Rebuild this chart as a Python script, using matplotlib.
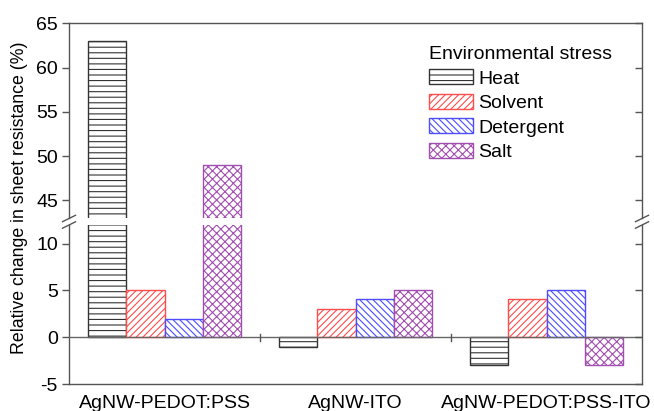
import matplotlib
matplotlib.use("Agg")
import matplotlib.pyplot as plt
import numpy as np
from matplotlib.lines import Line2D
from matplotlib.patches import Patch

plt.rcParams['font.family'] = ['Liberation Sans', 'DejaVu Sans']
plt.rcParams['hatch.linewidth'] = 0.8
plt.rcParams['axes.unicode_minus'] = False

categories = ["AgNW-PEDOT:PSS", "AgNW-ITO", "AgNW-PEDOT:PSS-ITO"]
series_names = ["Heat", "Solvent", "Detergent", "Salt"]
heat = [63, -1, -3]
solvent = [5, 3, 4.1]
detergent = [2, 4.1, 5]
salt = [49, 5, -3]
series = [heat, solvent, detergent, salt]
edge_colors = ["#333333", "#ff4d4d", "#4d4dff", "#a24db0"]
hatches = ["---", "/////", "\\\\\\\\\\", "xxxx"]
upper_ticks = [45, 50, 55, 60, 65]
lower_ticks = [-5, 0, 5, 10]

W, H = 654, 411
fig = plt.figure(figsize=(W / 100, H / 100), dpi=100)
left, right = 69 / W, 642 / W
ax_up = fig.add_axes([left, 1 - 218 / H, right - left, (218 - 23.3) / H])
ax_lo = fig.add_axes([left, 1 - 384 / H, right - left, (384 - 225) / H])

x = np.arange(len(categories))
width = 0.2
offsets = [-0.3, -0.1, 0.1, 0.3]

FS = 14

for ax in (ax_up, ax_lo):
    for vals, off, ec, h, name in zip(series, offsets, edge_colors, hatches, series_names):
        ax.bar(x + off, vals, width, facecolor="white", edgecolor=ec, hatch=h,
               linewidth=1.0, label=name, zorder=2)
    ax.set_xlim(-0.5, 2.5)
    for s in ax.spines.values():
        s.set_color("#555555")
        s.set_linewidth(1.0)

ax_up.set_ylim(43, 65)
ax_lo.set_ylim(-5, 12)
ax_up.spines['bottom'].set_visible(False)
ax_lo.spines['top'].set_visible(False)

ax_up.set_yticks(upper_ticks)
ax_lo.set_yticks(lower_ticks)
ax_up.set_xticks([])
ax_lo.set_xticks(x)
ax_lo.set_xticklabels(categories, fontsize=FS)
ax_lo.tick_params(axis='x', length=0, pad=8)

for ax in (ax_up, ax_lo):
    ax.tick_params(axis='y', which='both', left=True, right=False, direction='out',
                   length=5, width=1.0, color="#555555", labelsize=FS, pad=3)
    ax2 = ax.twinx()
    ax2.set_ylim(ax.get_ylim())
    ax2.set_yticks(ax.get_yticks())
    ax2.tick_params(axis='y', direction='in', length=5, width=1.0, color="#555555",
                    labelright=False)
    for s in ax2.spines.values():
        s.set_visible(False)

# zero line
ax_lo.axhline(0, color="#666666", linewidth=1.0, zorder=3)
# separators at zero between groups
for xs in [0.5, 1.5]:
    ax_lo.plot([xs, xs], [-0.35, 0.35], color="#555555", linewidth=1.0, zorder=3)

# break marks
def brk(xpix):
    for yc in [218.5, 225]:
        y0 = 1 - (yc + 3.2) / H
        y1 = 1 - (yc - 3.2) / H
        fig.add_artist(Line2D([(xpix - 6.5) / W, (xpix + 6.5) / W], [y0, y1],
                              color="#555555", linewidth=1.0))

brk(69)
brk(642)

fig.text(20 / W, 1 - 197.5 / H,
         "Relative change in sheet resistance (%)", rotation=90,
         va='center', ha='center', fontsize=12.8)

handles = [Patch(facecolor="white", edgecolor=ec, hatch=h, linewidth=1.0, label=n)
           for ec, h, n in zip(edge_colors, hatches, series_names)]
fpx = FS * 100 / 72
leg = fig.legend(handles=handles, title="Environmental stress", loc='upper left',
                 bbox_to_anchor=((429 - 0.4 * fpx) / W, 1 - (46 - 0.4 * fpx) / H),
                 frameon=False, fontsize=FS, title_fontsize=FS,
                 handlelength=2.26, handleheight=0.82, labelspacing=0.32,
                 handletextpad=0.26, borderaxespad=0)
leg.set_alignment('left')

fig.savefig("out.png", dpi=100)
